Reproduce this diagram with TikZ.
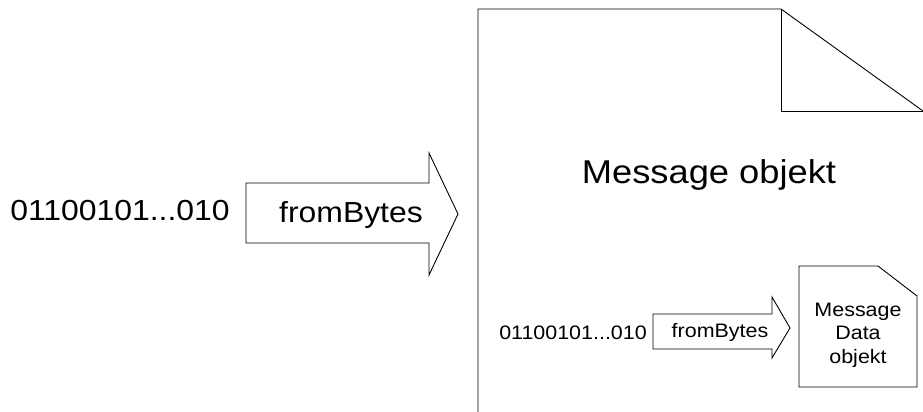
\documentclass[tikz,border=0pt]{standalone}
\usepackage{fontspec}
\setmainfont{Liberation Sans}[FakeStretch=1.1]
\begin{document}
\begin{tikzpicture}[x=1pt,y=-1pt,
  outline/.style={draw=black,line width=0.9pt,line join=miter},
  bigtext/.style={anchor=base,inner sep=0pt,font=\fontsize{29}{34}\selectfont},
  smalltext/.style={anchor=base,inner sep=0pt,font=\fontsize{19.5}{23.5}\selectfont}]
\useasboundingbox (0,0) rectangle (923,412);

% large block arrow
\draw[outline] (246,183) -- (429,183) -- (429,153) -- (458,214)
  -- (429,275) -- (429,243) -- (246,243) -- cycle;
\node[bigtext] (bits) at (120,220) {01100101...010};
\node[bigtext] (conv) at (351,222) {fromBytes};

% large page with folded corner
\draw[outline] (478,412) -- (478,9) -- (781,9) -- (923,111);
\draw[outline] (781,9) -- (781,111) -- (923,111);
\node[anchor=base,inner sep=0pt,font=\fontsize{33}{38}\selectfont] (msg) at (709,183) {Message objekt};

% small block arrow inside the page
\draw[outline] (653,314) -- (772,314) -- (772,297) -- (790,328)
  -- (772,358) -- (772,349) -- (653,349) -- cycle;
\node[smalltext] (bits2) at (573,339) {01100101...010};
\node[smalltext] (conv2) at (720,337) {fromBytes};

% small page with cut corner
\draw[outline] (799,266) -- (878,266) -- (917,296) -- (917,387) -- (799,387) -- cycle;
\node[smalltext,align=center] (data) at (858,363) {Message\\Data\\objekt};
\end{tikzpicture}
\end{document}
